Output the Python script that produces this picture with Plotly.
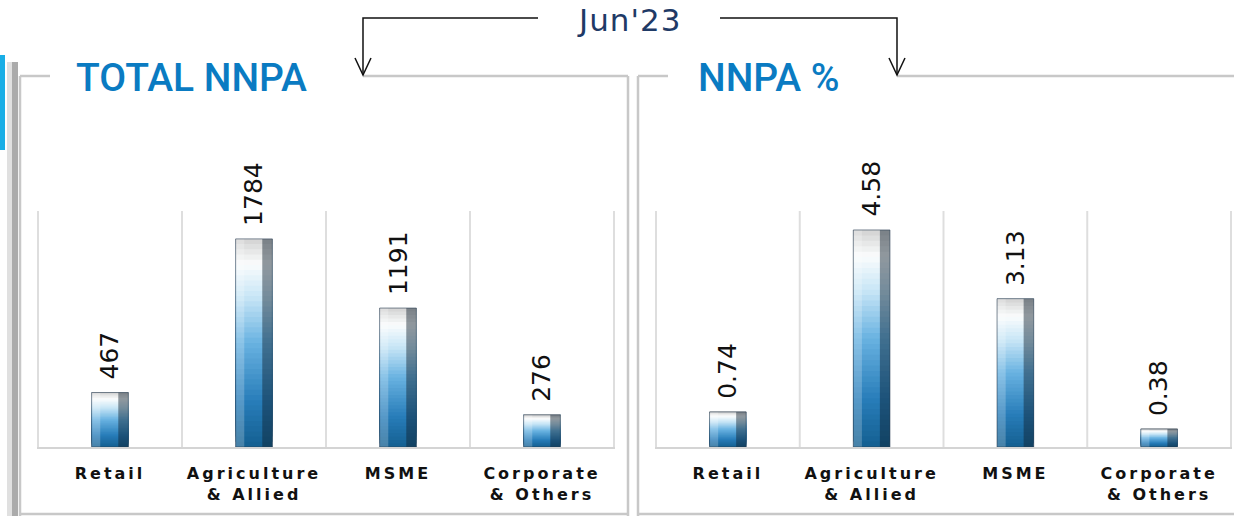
import plotly.graph_objects as go

# ---------------- data ----------------
categories = ["Retail", "Agriculture & Allied", "MSME", "Corporate & Others"]
tick_labels = ["Retail", "Agriculture<br>& Allied", "MSME", "Corporate<br>& Others"]
total_nnpa = [467, 1784, 1191, 276]
nnpa_pct = [0.74, 4.58, 3.13, 0.38]
value_labels_total = ["467", "1784", "1191", "276"]
value_labels_pct = ["0.74", "4.58", "3.13", "0.38"]
panel_titles = ["TOTAL NNPA", "NNPA %"]
period_label = "Jun'23"

W, H = 1234, 516


def X(px):
    return px / W


def Y(py):
    return 1 - py / H


def lerp(c1, c2, t):
    return tuple(int(round(a + (b - a) * t)) for a, b in zip(c1, c2))


# gradient stops from bottom (0) to top (1)
stops = [(0.0, (20, 95, 145)), (0.22, (40, 125, 185)), (0.5, (105, 178, 225)),
         (0.72, (200, 230, 246)), (0.88, (250, 252, 253)), (1.0, (210, 210, 210))]


def grad(t):
    for (t0, c0), (t1, c1) in zip(stops[:-1], stops[1:]):
        if t <= t1:
            return "rgb(%d,%d,%d)" % lerp(c0, c1, (t - t0) / (t1 - t0))
    return "rgb(%d,%d,%d)" % stops[-1][1]


def spaced(s, px):
    return '<span style="letter-spacing:%dpx">%s</span>' % (px, s)


fig = go.Figure()
N = 40
BW = 0.255
for vals, xa, ya in [(total_nnpa, "x", "y"), (nnpa_pct, "x2", "y2")]:
    for k in range(N):
        # each slice runs from its start up to the bar top; later slices overlay -> no seams
        fig.add_trace(go.Bar(
            x=categories, y=[v * (N - k) / N for v in vals], base=[v * k / N for v in vals],
            width=BW, offset=-BW / 2, marker=dict(color=grad((k + 0.5) / N), line=dict(width=0)),
            xaxis=xa, yaxis=ya, showlegend=False, hoverinfo="skip"))
    # right dark side and left light side for a bevel look
    fig.add_trace(go.Bar(
        x=categories, y=vals, width=0.07, offset=BW / 2 - 0.07,
        marker=dict(color="rgba(15,30,45,0.45)", line=dict(width=0)),
        xaxis=xa, yaxis=ya, showlegend=False, hoverinfo="skip"))
    fig.add_trace(go.Bar(
        x=categories, y=vals, width=0.06, offset=-BW / 2,
        marker=dict(color="rgba(255,255,255,0.22)", line=dict(width=0)),
        xaxis=xa, yaxis=ya, showlegend=False, hoverinfo="skip"))
    fig.add_trace(go.Bar(
        x=categories, y=vals, width=BW, offset=-BW / 2,
        marker=dict(color="rgba(0,0,0,0)", line=dict(color="rgba(40,60,80,0.6)", width=1)),
        xaxis=xa, yaxis=ya, showlegend=False, hovertemplate="%{x}: %{y}<extra></extra>"))

ydom = [Y(447), Y(211)]
tickfont = dict(family="DejaVu Sans", size=16, color="#111111", weight="bold")
common_x = dict(type="category", categoryorder="array", categoryarray=categories,
                tickvals=categories, ticktext=[spaced(t, 3) for t in tick_labels], tickfont=tickfont,
                showgrid=False, zeroline=False, showline=True, linecolor="#d4d4d4", linewidth=2,
                ticks="outside", ticklen=11, tickcolor="rgba(0,0,0,0)", fixedrange=True)
common_y = dict(showgrid=False, zeroline=False, showticklabels=False, showline=False, fixedrange=True)

fig.update_layout(
    width=W, height=H, margin=dict(l=0, r=0, t=0, b=0),
    paper_bgcolor="white", plot_bgcolor="white", barmode="overlay",
    xaxis=dict(domain=[X(37), X(615)], anchor="y", **common_x),
    yaxis=dict(domain=ydom, range=[0, 2023], anchor="x", **common_y),
    xaxis2=dict(domain=[X(655), X(1232)], anchor="y2", **common_x),
    yaxis2=dict(domain=ydom, range=[0, 4.98], anchor="x2", **common_y),
)

shapes = []
# category separators
for xr, yr in [("x", "y"), ("x2", "y2")]:
    for b in [-0.5, 0.5, 1.5, 2.5, 3.5]:
        shapes.append(dict(type="line", xref=xr, yref=yr + " domain", x0=b, x1=b, y0=0, y1=1,
                           line=dict(color="#dedede", width=2), layer="below"))

frame = dict(color="#c8c8c8", width=2.5)
# left panel frame
shapes += [
    dict(type="line", xref="paper", yref="paper", x0=X(20), x1=X(20), y0=Y(76), y1=Y(516), line=frame),
    dict(type="line", xref="paper", yref="paper", x0=X(20), x1=X(50), y0=Y(76), y1=Y(76), line=frame),
    dict(type="line", xref="paper", yref="paper", x0=X(363), x1=X(628), y0=Y(76), y1=Y(76), line=frame),
    dict(type="line", xref="paper", yref="paper", x0=X(628), x1=X(628), y0=Y(76), y1=Y(516), line=frame),
    dict(type="line", xref="paper", yref="paper", x0=X(20), x1=X(628), y0=Y(514), y1=Y(514), line=frame),
    # right panel frame
    dict(type="line", xref="paper", yref="paper", x0=X(638), x1=X(638), y0=Y(76), y1=Y(516), line=frame),
    dict(type="line", xref="paper", yref="paper", x0=X(638), x1=X(668), y0=Y(76), y1=Y(76), line=frame),
    dict(type="line", xref="paper", yref="paper", x0=X(897), x1=1.0, y0=Y(76), y1=Y(76), line=frame),
    dict(type="line", xref="paper", yref="paper", x0=X(638), x1=1.0, y0=Y(514), y1=Y(514), line=frame),
]
# left edge decoration
shapes += [
    dict(type="rect", xref="paper", yref="paper", x0=0, x1=X(5), y0=Y(150), y1=Y(55),
         fillcolor="#19aee6", line=dict(width=0)),
    dict(type="rect", xref="paper", yref="paper", x0=X(7), x1=X(12), y0=Y(516), y1=Y(62),
         fillcolor="#e0e0e0", line=dict(width=0)),
    dict(type="rect", xref="paper", yref="paper", x0=X(12), x1=X(18), y0=Y(516), y1=Y(62),
         fillcolor="#ababab", line=dict(width=0)),
]
# arrows from period label
arrow = dict(color="#111111", width=1.5)
for xs, xe in [(538, 363), (720, 897)]:
    shapes.append(dict(type="path", xref="paper", yref="paper",
                       path="M %f %f L %f %f L %f %f" % (X(xs), Y(18), X(xe), Y(18), X(xe), Y(75)),
                       line=arrow))
    shapes.append(dict(type="path", xref="paper", yref="paper",
                       path="M %f %f L %f %f L %f %f" % (X(xe - 8), Y(58), X(xe), Y(75), X(xe + 8), Y(58)),
                       line=arrow))
fig.update_layout(shapes=shapes)

annotations = []
for labels, vals, xr, yr in [(value_labels_total, total_nnpa, "x", "y"), (value_labels_pct, nnpa_pct, "x2", "y2")]:
    for c, v, t in zip(categories, vals, labels):
        annotations.append(dict(x=c, y=v, xref=xr, yref=yr, text=t, textangle=-90, showarrow=False,
                                yanchor="bottom", xanchor="center", yshift=11,
                                font=dict(family="DejaVu Sans", size=25, color="#111111")))
annotations += [
    dict(x=X(74), y=Y(78), xref="paper", yref="paper", text=panel_titles[0], showarrow=False,
         xanchor="left", yanchor="middle",
         font=dict(family="Roboto", size=39, color="#0a7bc2", weight=500)),
    dict(x=X(696), y=Y(78), xref="paper", yref="paper", text=panel_titles[1], showarrow=False,
         xanchor="left", yanchor="middle",
         font=dict(family="Roboto", size=39, color="#0a7bc2", weight=500)),
    dict(x=X(629), y=Y(20), xref="paper", yref="paper", text=spaced(period_label, 1), showarrow=False,
         xanchor="center", yanchor="middle",
         font=dict(family="DejaVu Sans", size=31, color="#1f3a66")),
]
fig.update_layout(annotations=annotations)

fig.write_html("out.html", config={"displayModeBar": False},
               post_script="document.body.style.margin='0';document.body.style.overflow='hidden';")
